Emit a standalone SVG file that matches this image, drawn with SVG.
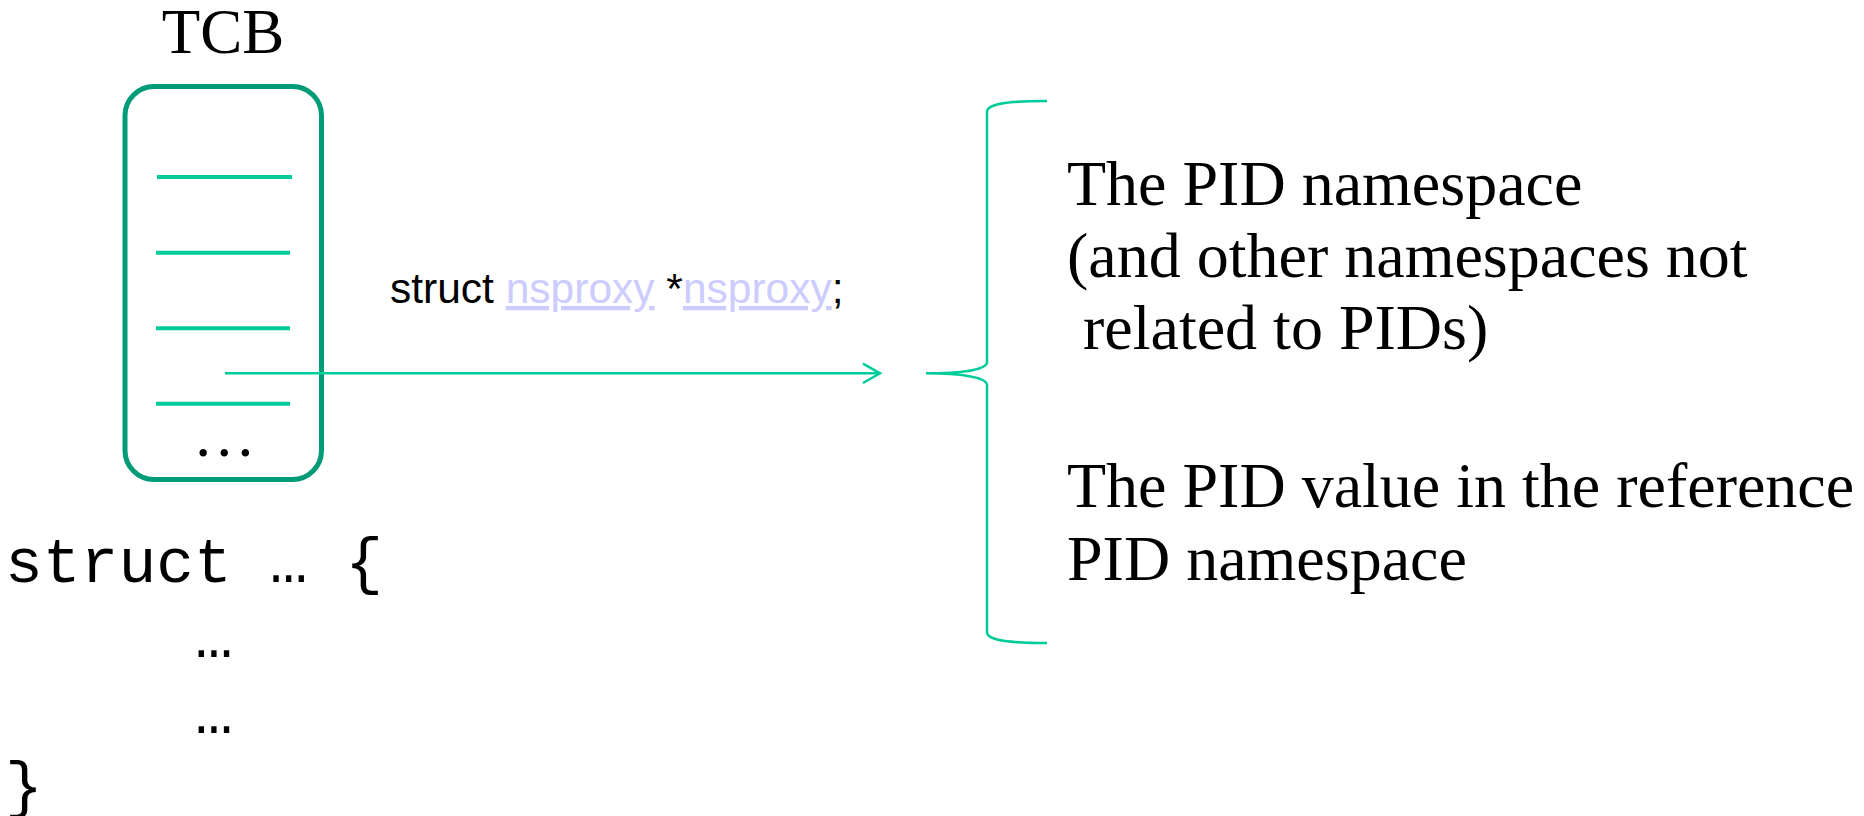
<svg xmlns="http://www.w3.org/2000/svg" width="1864" height="816" viewBox="0 0 1864 816">
<style>
.serif{font-family:"Liberation Serif","Times New Roman",serif;fill:#000}
.sans{font-family:"Liberation Sans",Arial,sans-serif;fill:#000}
.mono{font-family:"Liberation Mono","Courier New",monospace;fill:#000}
.field{stroke:#00CC99;stroke-width:4;fill:none}
.link{fill:#CCCCFF;text-decoration:underline;text-decoration-skip-ink:none}
.conn{stroke:#00CC99;stroke-width:2.5;fill:none}
</style>
<defs>
<marker id="arrow" markerUnits="userSpaceOnUse" markerWidth="24" markerHeight="26" refX="18" refY="11" orient="auto">
<path d="M1,1.3 L18,11 L1,20.7" fill="none" stroke="#00CC99" stroke-width="2.5"/>
</marker>
</defs>
<rect width="1864" height="816" fill="#fff"/>
<g id="tcb">
<text class="serif" x="223" y="53" font-size="63" text-anchor="middle">TCB</text>
<rect x="125" y="86.5" width="196.5" height="393" rx="29" ry="29" fill="none" stroke="#009B77" stroke-width="5"/>
<line class="field" x1="157" y1="177" x2="292" y2="177"/>
<line class="field" x1="156" y1="252.7" x2="290" y2="252.7"/>
<line class="field" x1="156" y1="328.3" x2="290" y2="328.3"/>
<line class="field" x1="156" y1="403.7" x2="290" y2="403.7"/>
<text class="serif" x="224.3" y="456" font-size="63" text-anchor="middle">…</text>
</g>
<g id="code">
<text class="mono" x="5" y="582" font-size="63">struct … {</text>
<text class="mono" x="195" y="657" font-size="63">…</text>
<text class="mono" x="195" y="733" font-size="63">…</text>
<text class="mono" x="5" y="806" font-size="63">}</text>
</g>
<g id="label">
<text class="sans" x="390" y="303" font-size="42.5">struct <tspan class="link">nsproxy</tspan> *<tspan class="link">nsproxy</tspan>;</text>
</g>
<g id="namespaces">
<text class="serif" x="1067" y="205" font-size="64">The PID namespace</text>
<text class="serif" x="1067" y="277" font-size="64">(and other namespaces not</text>
<text class="serif" x="1083" y="349" font-size="64">related to PIDs)</text>
<text class="serif" x="1067" y="507" font-size="64">The PID value in the reference</text>
<text class="serif" x="1067" y="580" font-size="64">PID namespace</text>
</g>
<g id="connectors">
<line class="conn" x1="225" y1="373.3" x2="880" y2="373.3" marker-end="url(#arrow)"/>
<path class="conn" d="M1047,101 C1005,101 987,104 987,112 L987,362 C987,370 960,373.3 926,373.3 C960,373.3 987,377 987,385 L987,632 C987,640 1005,643 1047,643"/>
</g>
</svg>
